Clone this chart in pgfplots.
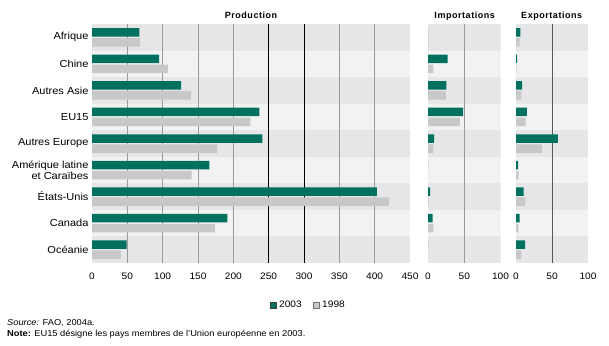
\documentclass[border=0pt]{standalone}
\usepackage{fontspec}
\setmainfont{Liberation Sans}[FakeStretch=1.08]
\newfontfamily\titlefont{Liberation Sans}[FakeStretch=1.0,LetterSpace=6,BoldFont={Liberation Sans Bold}]
\usepackage{pgfplots}
\pgfplotsset{compat=1.18}
\definecolor{cgreen}{HTML}{00715E}
\definecolor{cgray}{HTML}{C8C8C8}
\definecolor{bandA}{HTML}{E6E6E8}
\definecolor{bandB}{HTML}{F2F2F2}
\definecolor{gridg}{HTML}{9A9A9A}
\pgfplotsset{
  panel/.style={
    scale only axis, height=239pt, ymin=-0.5, ymax=8.5, y dir=reverse,
    xbar, bar width=8.5pt, axis line style={draw=none}, major tick length=0pt,
    xmin=0, ytick=\empty, anchor=south west,
    /pgf/number format/assume math mode=true,
    ticklabel style={font=\fontsize{9.4}{11.4}\selectfont},
    xticklabel style={yshift=-6pt},
  },
  g03/.style={fill=cgreen, draw=none, bar shift=5pt, forget plot},
  g98/.style={fill=cgray, draw=none, bar shift=-5pt, forget plot},
}
\newcommand{\bands}[1]{%
  \fill[bandB] (axis cs:0,-0.5) rectangle (axis cs:#1,8.5);
  \fill[bandA] (axis cs:0,-0.5) rectangle (axis cs:#1,0.5);
  \fill[bandA] (axis cs:0,1.5) rectangle (axis cs:#1,2.5);
  \fill[bandA] (axis cs:0,3.5) rectangle (axis cs:#1,4.5);
  \fill[bandA] (axis cs:0,5.5) rectangle (axis cs:#1,6.5);
  \fill[bandA] (axis cs:0,7.5) rectangle (axis cs:#1,8.5);
}
\begin{document}
\begin{tikzpicture}
\path[use as bounding box] (0pt,0pt) rectangle (609pt,345pt);

% ---------------- Production ----------------
\begin{axis}[panel, at={(92pt,82pt)}, width=318pt, xmax=450,
  xtick={0,50,...,450},
  ytick={0,1,...,8},
  yticklabels={Afrique, Chine, Autres Asie, EU15, Autres Europe, {Amérique latine\\et Caraïbes}, États-Unis, Canada, Océanie},
  yticklabel style={align=right, font=\fontsize{10.2}{11.4}\selectfont},
  legend style={at={(0.68,-0.176)}, anchor=center, draw=none, fill=none,
    legend columns=2, font=\fontsize{9.4}{11}\selectfont,
    /tikz/every even column/.append style={column sep=9pt}},
  legend image code/.code={\draw[#1] (0pt,-3pt) rectangle (6pt,3pt); \path (7pt,0pt);},
]
\bands{450}
\draw[gridg, line width=1pt] (axis cs:50,-0.5) -- (axis cs:50,8.5);
\draw[gridg, line width=1pt] (axis cs:100,-0.5) -- (axis cs:100,8.5);
\draw[gridg, line width=1pt] (axis cs:150,-0.5) -- (axis cs:150,8.5);
\draw[gridg, line width=1pt] (axis cs:200,-0.5) -- (axis cs:200,8.5);
\draw[gridg, line width=1pt] (axis cs:350,-0.5) -- (axis cs:350,8.5);
\draw[gridg, line width=1pt] (axis cs:400,-0.5) -- (axis cs:400,8.5);
\draw[black, line width=1pt] (axis cs:250,-0.5) -- (axis cs:250,8.5);
\draw[black, line width=1pt] (axis cs:300,-0.5) -- (axis cs:300,8.5);
\addplot[g03] coordinates {(67,0) (95,1) (126,2) (237,3) (241,4) (166,5) (403,6) (191.5,7) (49,8)};
\addplot[g98] coordinates {(68,0) (107.5,1) (140,2) (224,3) (177.5,4) (141,5) (420,6) (174,7) (41,8)};
\addlegendimage{fill=cgreen, draw=black!75, line width=0.5pt}
\addlegendentry{2003}
\addlegendimage{fill=cgray, draw=black!55, line width=0.5pt}
\addlegendentry{1998}
\end{axis}

% ---------------- Importations ----------------
\begin{axis}[panel, at={(428pt,82pt)}, width=72.5pt, xmax=100, xtick={0,50,100}]
\bands{100}
\draw[gridg, line width=1pt] (axis cs:50,-0.5) -- (axis cs:50,8.5);
\addplot[g03] coordinates {(0,0) (27,1) (25.5,2) (48.5,3) (8.3,4) (0,5) (2.8,6) (6.5,7) (0,8)};
\addplot[g98] coordinates {(1,0) (7.4,1) (24.5,2) (44,3) (7.4,4) (0,5) (1,6) (7.4,7) (0,8)};
\end{axis}

% ---------------- Exportations ----------------
\begin{axis}[panel, at={(516pt,82pt)}, width=72pt, xmax=100, xtick={0,50,100}]
\bands{100}
\draw[black!65, line width=1pt] (axis cs:50,-0.5) -- (axis cs:50,8.5);
\addplot[g03] coordinates {(6,0) (1.4,1) (8.4,2) (15,3) (58,4) (2.8,5) (10.7,6) (5,7) (12.6,8)};
\addplot[g98] coordinates {(5,0) (1,1) (7.5,2) (13.5,3) (36,4) (3.7,5) (13,6) (3.3,7) (7.5,8)};
\end{axis}

% titles
\node[font=\titlefont\fontsize{9}{10}\selectfont\bfseries] at (251pt,329.3pt) {Production};
\node[font=\titlefont\fontsize{9}{10}\selectfont\bfseries] at (464.7pt,329.3pt) {Importations};
\node[font=\titlefont\fontsize{9}{10}\selectfont\bfseries] at (551.7pt,329.3pt) {Exportations};

% source and note
\node[anchor=base west, inner sep=0pt, font=\fontsize{8.6}{9}\selectfont] at (7pt,19.5pt) {\textit{Source:} FAO, 2004a.};
\node[anchor=base west, inner sep=0pt, font=\fontsize{8.6}{9}\selectfont] at (7pt,8.5pt) {\textbf{Note:} EU15 désigne les pays membres de l'Union européenne en 2003.};
\end{tikzpicture}
\end{document}
